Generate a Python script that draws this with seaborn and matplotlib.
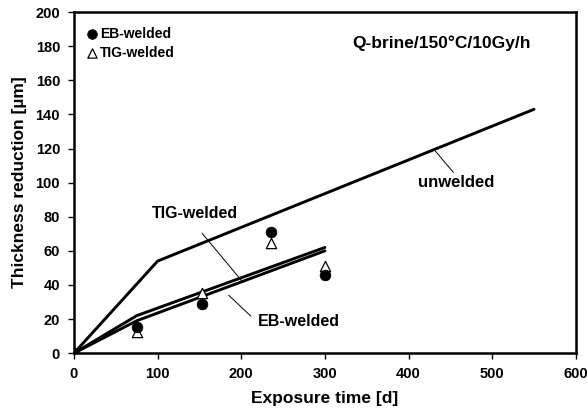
import matplotlib
matplotlib.use("Agg")
import matplotlib.pyplot as plt
import seaborn as sns

# Model curves (thickness reduction vs exposure time)
unwelded_t = [0, 100, 550]
unwelded_y = [0, 54, 143]
tig_line_t = [0, 75, 300]
tig_line_y = [0, 22, 62]
eb_line_t = [0, 75, 300]
eb_line_y = [0, 19, 60]

# Measured data
eb_t = [0, 75, 153, 235, 300]
eb_y = [0, 15.2, 29, 71, 46]
tig_t = [0, 75, 153, 235, 300]
tig_y = [0, 12.5, 35, 64.5, 51]

sns.set_theme(style="white")
plt.rcParams['font.family'] = ['Liberation Sans', 'DejaVu Sans']
plt.rcParams['font.weight'] = 'bold'
plt.rcParams['text.color'] = 'black'
plt.rcParams['axes.labelcolor'] = 'black'
plt.rcParams['xtick.color'] = 'black'
plt.rcParams['ytick.color'] = 'black'

fig = plt.figure(figsize=(5.87, 4.16), dpi=100)
ax = fig.add_axes([0.126, 0.151, 0.855, 0.82])

for t, y in [(unwelded_t, unwelded_y), (tig_line_t, tig_line_y), (eb_line_t, eb_line_y)]:
    sns.lineplot(x=t, y=y, ax=ax, color="black", linewidth=2.1, sort=False,
                 estimator=None)

sns.scatterplot(x=tig_t, y=tig_y, ax=ax, marker="^", s=55, color="white",
                edgecolor="black", linewidth=0.9, label="TIG-welded", zorder=5)
sns.scatterplot(x=eb_t, y=eb_y, ax=ax, marker="o", s=60, color="black",
                edgecolor="black", linewidth=0.5, label="EB-welded", zorder=6)

handles, labels = ax.get_legend_handles_labels()
order = [labels.index("EB-welded"), labels.index("TIG-welded")]
ax.legend([handles[i] for i in order], [labels[i] for i in order],
          loc="upper left", frameon=False, handletextpad=0.0,
          borderaxespad=0.3, labelspacing=0.35, markerscale=0.9,
          prop={'weight': 'bold', 'size': 10}, handlelength=1.2,
          bbox_to_anchor=(0.0, 0.985), labelcolor="black")

ax.set_xlim(0, 600)
ax.set_ylim(0, 200)
ax.set_xticks(range(0, 601, 100))
ax.set_yticks(range(0, 201, 20))
ax.tick_params(axis="both", which="major", direction="out", length=4,
               width=1, color="black", labelcolor="black", labelsize=10.5,
               pad=6, bottom=True, left=True)
for lab in ax.get_xticklabels() + ax.get_yticklabels():
    lab.set_fontweight("bold")
for sp in ax.spines.values():
    sp.set_visible(True)
    sp.set_color("black")
    sp.set_linewidth(1.8)

ax.set_xlabel("Exposure time [d]", fontsize=12.5, fontweight="bold", labelpad=7,
              color="black")
ax.set_ylabel("Thickness reduction [\u00b5m]", fontsize=12.5, fontweight="bold",
              labelpad=6, color="black")

# Annotations with leader lines
ax.text(333, 182, "Q-brine/150\u00b0C/10Gy/h", fontsize=12.5, fontweight="bold",
        va="center", ha="left", color="black")
ax.text(411, 100, "unwelded", fontsize=12, fontweight="bold", va="center",
        ha="left", color="black")
ax.plot([432, 453.6], [118.5, 106], color="black", linewidth=0.7)
ax.text(93, 82, "TIG-welded", fontsize=11.5, fontweight="bold", va="center",
        ha="left", color="black")
ax.plot([153, 202], [70.4, 41.6], color="black", linewidth=0.7)
ax.text(220, 18.8, "EB-welded", fontsize=11.5, fontweight="bold", va="center",
        ha="left", color="black")
ax.plot([185, 211.5], [34, 21.7], color="black", linewidth=0.7)

fig.savefig("out.png", dpi=100)
